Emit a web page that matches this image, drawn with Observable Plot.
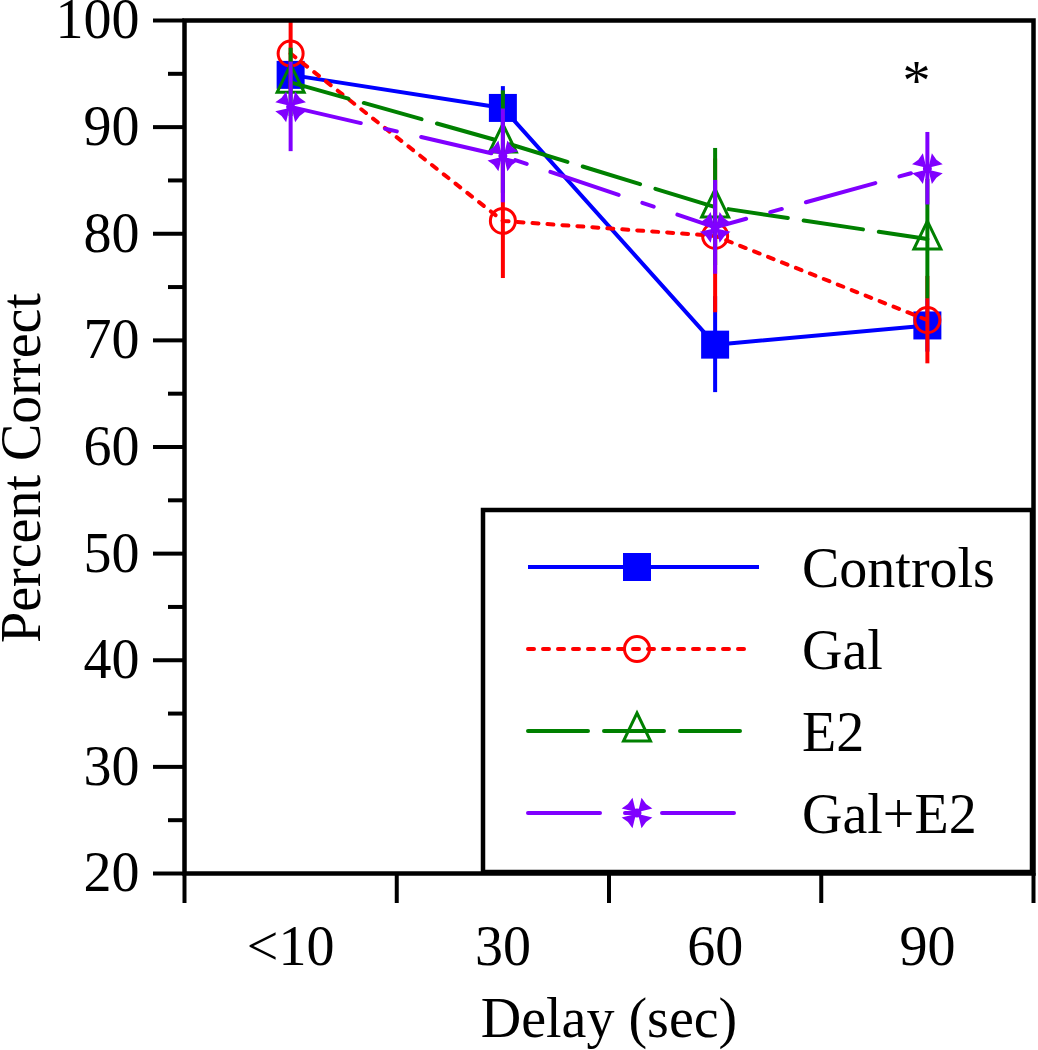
<!DOCTYPE html>
<html><head><meta charset="utf-8">
<script src="https://cdn.jsdelivr.net/npm/d3@7"></script>
<script src="https://cdn.jsdelivr.net/npm/@observablehq/plot@0.6"></script>
<style>
html,body{margin:0;padding:0;background:#fff;}
#chart{position:relative;width:1038px;height:1050px;}
</style></head><body><div id="chart"></div>
<script>
// ---- data ----
const delays = ["<10", "30", "60", "90"];
const seriesNames = ["Controls", "Gal", "E2", "Gal+E2"];
const controlsMean = [94.9, 91.8, 69.6, 71.4];
const controlsErr  = [1.2, 2.0, 4.5, 2.5];
const galMean      = [96.9, 81.2, 79.8, 71.9];
const galErr       = [3.4, 5.4, 7.2, 4.1];
const e2Mean       = [94.2, 88.6, 82.5, 79.5];
const e2Err        = [3.2, 4.8, 5.5, 5.6];
const galE2Mean    = [91.9, 87.3, 80.6, 86.1];
const galE2Err     = [4.2, 4.4, 4.4, 3.4];
const yMajorTicks  = [20, 30, 40, 50, 60, 70, 80, 90, 100];
const yMinorTicks  = [25, 35, 45, 55, 65, 75, 85, 95];
const annotations  = [{delay: "90", value: 94.2, label: "*"}];
const xTitle = "Delay (sec)";
const yTitle = "Percent Correct";

// ---- custom symbols ----
const squareSym = {draw(ctx) { const h = 14; ctx.moveTo(-h, -h); ctx.lineTo(h, -h); ctx.lineTo(h, h); ctx.lineTo(-h, h); ctx.closePath(); }};
const circleSym = {draw(ctx) { const r = 12.5; ctx.moveTo(r, 0); ctx.arc(0, 0, r, 0, 2 * Math.PI); ctx.closePath(); }};
const triSym = {draw(ctx) { ctx.moveTo(0, -18); ctx.lineTo(13.5, 10); ctx.lineTo(-13.5, 10); ctx.closePath(); }};
const starSym = {draw(ctx) {
  const R = 16, a = 0.5, r0 = 1.5;
  for (const t of [Math.PI/4, 3*Math.PI/4, 5*Math.PI/4, 7*Math.PI/4]) {
    ctx.moveTo(r0 * Math.cos(t), r0 * Math.sin(t));
    ctx.lineTo(R * Math.cos(t - a), R * Math.sin(t - a));
    ctx.lineTo(R * 0.8 * Math.cos(t), R * 0.8 * Math.sin(t));
    ctx.lineTo(R * Math.cos(t + a), R * Math.sin(t + a));
    ctx.closePath();
  }
  ctx.moveTo(4.5, 0); ctx.arc(0, 0, 4.5, 0, 2 * Math.PI);
}};

const styles = [
  {color: "#0000FF", dash: null, cap: "butt", symbol: squareSym, fill: "#0000FF", mstroke: "none"},
  {color: "#FF0000", dash: "6,9", cap: "round", symbol: circleSym, fill: "none", mstroke: "#FF0000"},
  {color: "#008000", dash: "60,16", cap: "round", symbol: triSym, fill: "none", mstroke: "#008000"},
  {color: "#8000FF", dash: "72,25,12,25", cap: "round", symbol: starSym, fill: "#8000FF", mstroke: "none"}
];
const means = [controlsMean, galMean, e2Mean, galE2Mean];
const errs = [controlsErr, galErr, e2Err, galE2Err];

const marks = [];
seriesNames.forEach((name, si) => {
  const st = styles[si];
  const data = delays.map((d, i) => ({series: name, x: i + 0.5, y: means[si][i], lo: means[si][i] - errs[si][i], hi: means[si][i] + errs[si][i]}));
  marks.push(Plot.line(data, {x: "x", y: "y", stroke: st.color, strokeWidth: 4, strokeDasharray: st.dash || undefined, strokeLinecap: st.cap, clip: true}));
  marks.push(Plot.ruleX(data, {x: "x", y1: "lo", y2: "hi", stroke: st.color, strokeWidth: 4, clip: true}));
  marks.push(Plot.dot(data, {x: "x", y: "y", symbol: st.symbol, r: 10, fill: st.fill, stroke: st.mstroke, strokeWidth: 3}));
});

const chart = Plot.plot({
  width: 1038, height: 1050,
  marginLeft: 184, marginRight: 5, marginTop: 20, marginBottom: 177,
  x: {domain: [0, 4]},
  y: {domain: [20, 100]},
  style: {fontFamily: "'Liberation Serif', 'Times New Roman', serif", fontSize: "56px", color: "black", background: "white"},
  marks: [
    Plot.axisY({ticks: yMajorTicks, tickSize: 31, tickPadding: 14, strokeWidth: 4, label: null, fontSize: 56}),
    Plot.axisY({ticks: yMinorTicks, tickSize: 16, strokeWidth: 4, fill: "none", label: null}),
    Plot.axisX({ticks: [0, 1, 2, 3, 4], tickSize: 30, strokeWidth: 4, fill: "none", label: null}),
    Plot.axisX({ticks: delays.map((d, i) => i + 0.5), tickSize: 0, tickPadding: 52, tickFormat: (v) => delays[Math.floor(v)], label: null, fontSize: 56}),
    ...marks,
    Plot.text(annotations, {x: (d) => delays.indexOf(d.delay) + 0.5, y: "value", text: "label", dx: -11, fontSize: 56}),
    Plot.text([xTitle], {frameAnchor: "bottom", textAnchor: "middle", lineAnchor: "middle", dy: 146, fontSize: 56}),
    Plot.text([yTitle], {frameAnchor: "left", textAnchor: "middle", lineAnchor: "middle", rotate: -90, dx: -162, dy: 21, fontSize: 56}),
    Plot.frame({stroke: "black", strokeWidth: 4.5})
  ]
});
document.getElementById("chart").appendChild(chart);

// ---- legend (inside plot area) ----
const svg = d3.select(chart);
const lg = svg.append("g");
lg.append("rect").attr("x", 483).attr("y", 510).attr("width", 549).attr("height", 362)
  .attr("fill", "white").attr("stroke", "black").attr("stroke-width", 4.5);
const rowY = [567, 649, 731, 813];
const lineEnd = [759, 750, 740, 740];
seriesNames.forEach((name, si) => {
  const st = styles[si];
  const y = rowY[si];
  lg.append("line").attr("x1", 528).attr("x2", lineEnd[si]).attr("y1", y).attr("y2", y)
    .attr("stroke", st.color).attr("stroke-width", 4)
    .attr("stroke-dasharray", st.dash).attr("stroke-linecap", st.cap);
  const p = d3.path(); st.symbol.draw(p, 0);
  lg.append("path").attr("d", p.toString()).attr("transform", `translate(637,${y})`)
    .attr("fill", st.fill).attr("stroke", st.mstroke).attr("stroke-width", 3);
  lg.append("text").attr("x", 802).attr("y", y + 19.5).attr("text-anchor", "start").text(name)
    .attr("font-size", 56).attr("fill", "black");
});
</script></body></html>
